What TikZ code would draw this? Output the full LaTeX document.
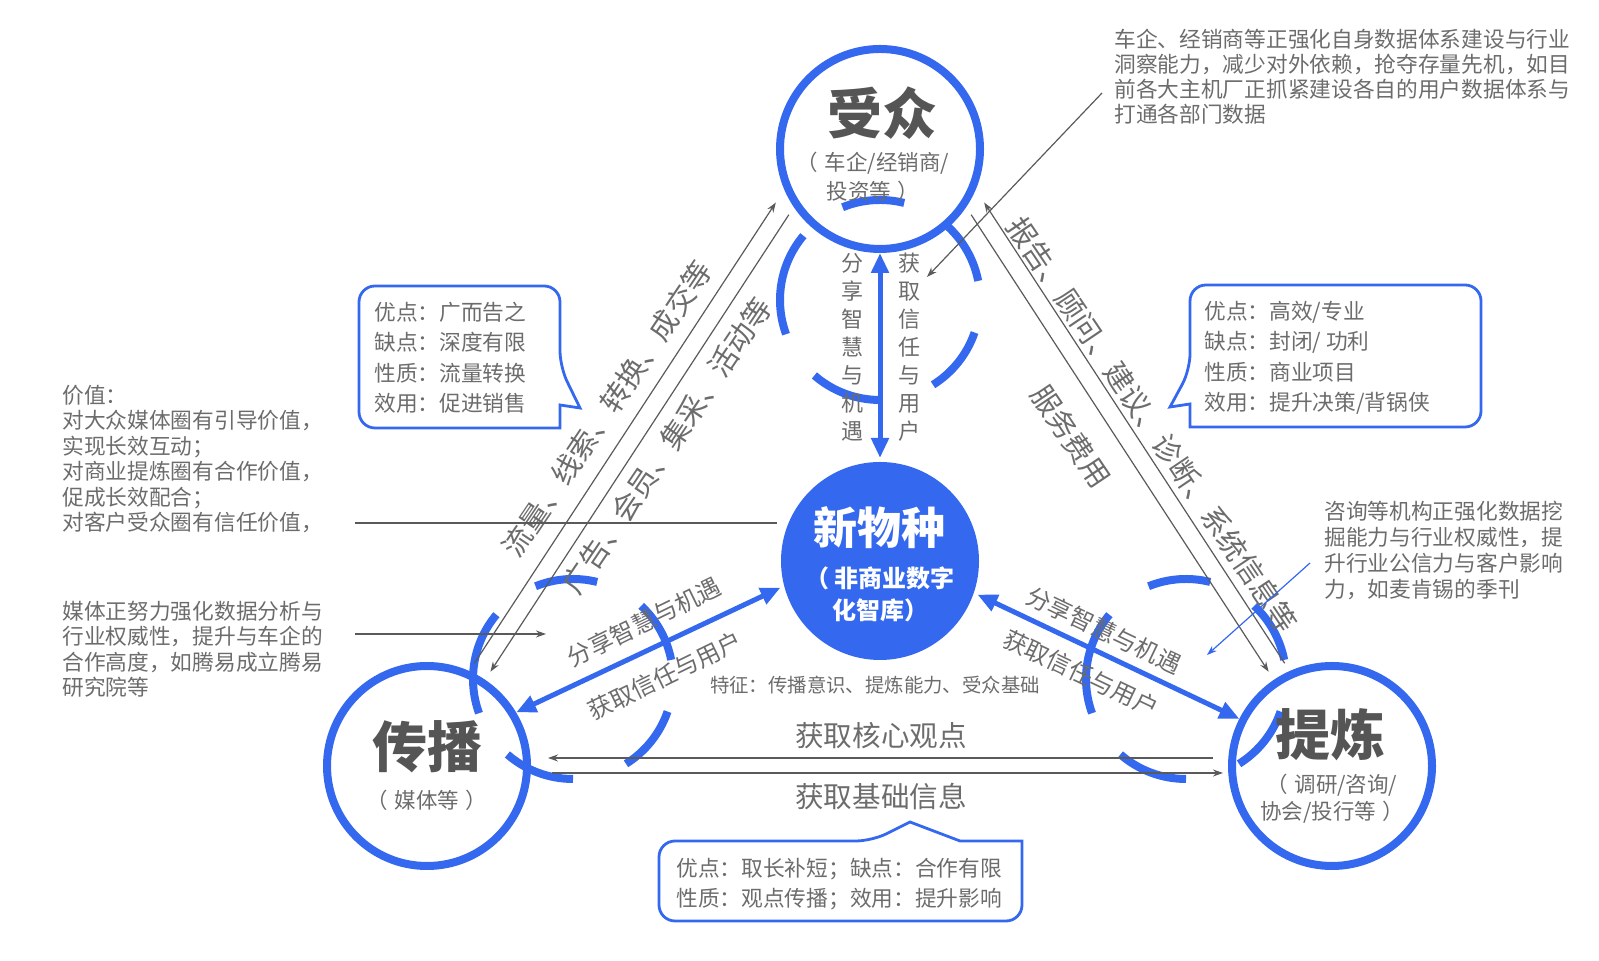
\documentclass[tikz,border=0pt]{standalone}
\usepackage{fontspec}
\setmainfont{Noto Sans CJK SC}
\usetikzlibrary{arrows.meta}
\definecolor{brandblue}{RGB}{52,104,238}
\definecolor{inkgray}{RGB}{108,108,108}
\definecolor{headgray}{RGB}{85,85,85}
\definecolor{linegray}{RGB}{90,90,90}
\newcommand{\fsz}[2]{\fontsize{#1}{#2}\selectfont}

\begin{document}
\begin{tikzpicture}[x=0.5pt,y=0.5pt,
  ring/.style={circle,draw=brandblue,line width=4pt,minimum size=100pt,inner sep=0pt},
  core/.style={circle,fill=brandblue,minimum size=99pt,inner sep=0pt,outer sep=2pt},
  rotarc/.style={draw=brandblue,line width=4pt},
  link/.style={draw=brandblue,line width=2.5pt,>={Triangle[length=10pt,width=8.5pt]},<->},
  flow/.style={draw=linegray,line width=0.6pt,>={Stealth[length=5pt,width=3.5pt]}},
  callout/.style={draw=brandblue,line width=1.4pt},
  title/.style={text=headgray,font=\bfseries\fsz{27.5pt}{30pt},inner sep=0pt},
  sub/.style={text=inkgray,align=center,font=\fsz{10.75pt}{14.5pt},inner sep=0pt},
  note/.style={text=inkgray,align=left,font=\fsz{10.85pt}{12.75pt},inner sep=0pt,anchor=west},
  boxtext/.style={note,font=\fsz{10.85pt}{15.25pt}},
  lbl/.style={text=inkgray,font=\fsz{14.5pt}{16pt},inner sep=0pt},
  arrlbl/.style={text=inkgray,font=\fsz{12pt}{14pt},inner sep=0pt},
  vlbl/.style={text=inkgray,align=center,font=\fsz{11pt}{14pt},inner sep=0pt}
]
  \useasboundingbox (0,0) rectangle (1599,961);

  \node[ring] (aud) at (880,812) {};
  \node[ring] (spr) at (427,195) {};
  \node[ring] (ref) at (1332,195) {};
  \node[core] (ctr) at (880,400) {};

  \coordinate (cyctop) at (880,661);
  \coordinate (cyclft) at (573,282);
  \coordinate (cycrgt) at (1186,282);
  \foreach \c in {cyctop,cyclft,cycrgt}
    \foreach \a/\b in {-58/-19,11/47,76/112,140/200,229/270}
      \draw[rotarc] (\c) ++(\a:50pt) arc[start angle=\a,end angle=\b,radius=50pt];

  \node[title] (audname) at (882,848) {受众};
  \node[sub] (audsub) at (873,784) {（\hspace{0.3em}车企/经销商/\\投资等\hspace{0.3em}）};
  \node[title] (sprname) at (427,214) {传播};
  \node[sub] (sprsub) at (427,161) {（\hspace{0.3em}媒体等\hspace{0.3em}）};
  \node[title] (refname) at (1330,226) {提炼};
  \node[sub,font=\fsz{10.75pt}{13.5pt}] (refsub) at (1332,162) {（\hspace{0.3em}调研/咨询/\\协会/投行等\hspace{0.3em}）};
  \node[text=white,font=\bfseries\fsz{22pt}{24pt},inner sep=0pt] (ctrname) at (879,433) {新物种};
  \node[text=white,align=center,font=\bfseries\fsz{12pt}{16pt},inner sep=0pt] (ctrsub) at (880,367) {（\hspace{0.2em}非商业数字\\化智库）};

  \draw[link] (aud.south) -- (ctr.north);
  \draw[link] (spr.31) -- (ctr.195);
  \draw[link] (ctr.341) -- (ref.153);

  \draw[flow,->,shorten <=4.6pt,shorten >=7.7pt] (spr.66) -- (aud.203);
  \draw[flow,->,shorten <=4.5pt,shorten >=4.8pt] (aud.214) -- (spr.56);
  \draw[flow,->,shorten <=4.6pt,shorten >=7.7pt] (ref.114) -- (aud.337);
  \draw[flow,->,shorten <=4.5pt,shorten >=4.8pt] (aud.326) -- (ref.124);
  \draw[flow,->] ([xshift=-7.5pt,yshift=4pt]ref.west) -- ([xshift=8.5pt,yshift=4pt]spr.east);
  \draw[flow,->] ([xshift=10.5pt,yshift=-3.5pt]spr.east) -- ([xshift=-2.5pt,yshift=-3.5pt]ref.west);

  \node[vlbl] (tshare) at (852,614) {分\\享\\智\\慧\\与\\机\\遇};
  \node[vlbl] (ttrust) at (909,614) {获\\取\\信\\任\\与\\用\\户};
  \node[arrlbl,rotate=26] (lshare) at (644,339) {分享智慧与机遇};
  \node[arrlbl,rotate=26] (ltrust) at (665,285) {获取信任与用户};
  \node[arrlbl,rotate=-25.5] (rshare) at (1104,331) {分享智慧与机遇};
  \node[arrlbl,rotate=-25.5] (rtrust) at (1081,288) {获取信任与用户};
  \node[lbl,rotate=56] (lbltraffic) at (607,552) {流量、线索、转换、成交等};
  \node[lbl,rotate=56] (lblads) at (667,515) {广告、会员、集采、活动等};
  \node[lbl,rotate=-56] (lblreport) at (1152,536) {报告、顾问、建议、诊断、系统信息等};
  \node[lbl,rotate=-56] (lblfee) at (1071,525) {服务费用};
  \node[lbl,font=\fsz{14.3pt}{16pt}] (core) at (881,225) {获取核心观点};
  \node[lbl,font=\fsz{14.3pt}{16pt}] (basic) at (881,164) {获取基础信息};
  \node[text=inkgray,font=\fsz{9.7pt}{11pt},inner sep=0pt] (feature) at (875,276) {特征：传播意识、提炼能力、受众基础};

  \draw[callout] (359,604) [rounded corners=8pt] -- (359,675) -- (560,675) -- (560,594)
    [sharp corners] -- (580,553) -- (560,556) -- (560,533) [rounded corners=8pt] -- (359,533) -- cycle;
  \node[boxtext] (sprbox) at (374,603) {优点：广而告之\\缺点：深度有限\\性质：流量转换\\效用：促进销售};
  \draw[callout] (1481,605) [rounded corners=8pt] -- (1481,676) -- (1190,676) -- (1190,591)
    [sharp corners] -- (1170,554) -- (1190,557) -- (1190,534) [rounded corners=8pt] -- (1481,534) -- cycle;
  \node[boxtext] (refbox) at (1204,603) {优点：高效/专业\\缺点：封闭/ 功利\\性质：商业项目\\效用：提升决策/背锅侠};
  \draw[callout] (659,80) [rounded corners=8pt] -- (659,120) -- (872,120)
    [sharp corners] -- (910,139) -- (960,120) -- (1022,120) [rounded corners=8pt] -- (1022,40) -- (659,40) -- cycle;
  \node[boxtext] (midbox) at (676,77) {优点：取长补短；缺点：合作有限\\性质：观点传播；效用：提升影响};

  \node[note] (valnote) at (62,502) {价值：\\对大众媒体圈有引导价值，\\实现长效互动；\\对商业提炼圈有合作价值，\\促成长效配合；\\对客户受众圈有信任价值，};
  \node[note] (mednote) at (62,312) {媒体正努力强化数据分析与\\行业权威性，提升与车企的\\合作高度，如腾易成立腾易\\研究院等};
  \node[note,font=\fsz{10.85pt}{13pt}] (connote) at (1324,411) {咨询等机构正强化数据挖\\掘能力与行业权威性，提\\升行业公信力与客户影响\\力，如麦肯锡的季刊};
  \node[note,font=\fsz{10.85pt}{12.5pt}] (carnote) at (1114,884) {车企、经销商等正强化自身数据体系建设与行业\\洞察能力，减少对外依赖，抢夺存量先机，如目\\前各大主机厂正抓紧建设各自的用户数据体系与\\打通各部门数据};

  \coordinate (valpt) at (355,438);
  \coordinate (medpt) at (355,327);
  \coordinate (medtip) at (546,327);
  \coordinate (conpt) at (1310,398);
  \coordinate (contip) at (1207,306);
  \coordinate (carpt) at (1102,868);
  \coordinate (cartip) at (927,684);
  \draw[flow] (valpt) -- (valpt -| ctr.west);
  \draw[flow,->] (medpt) -- (medtip);
  \draw[flow,->,draw=brandblue] (conpt) -- (contip);
  \draw[flow,->] (carpt) -- (cartip);
\end{tikzpicture}
\end{document}
